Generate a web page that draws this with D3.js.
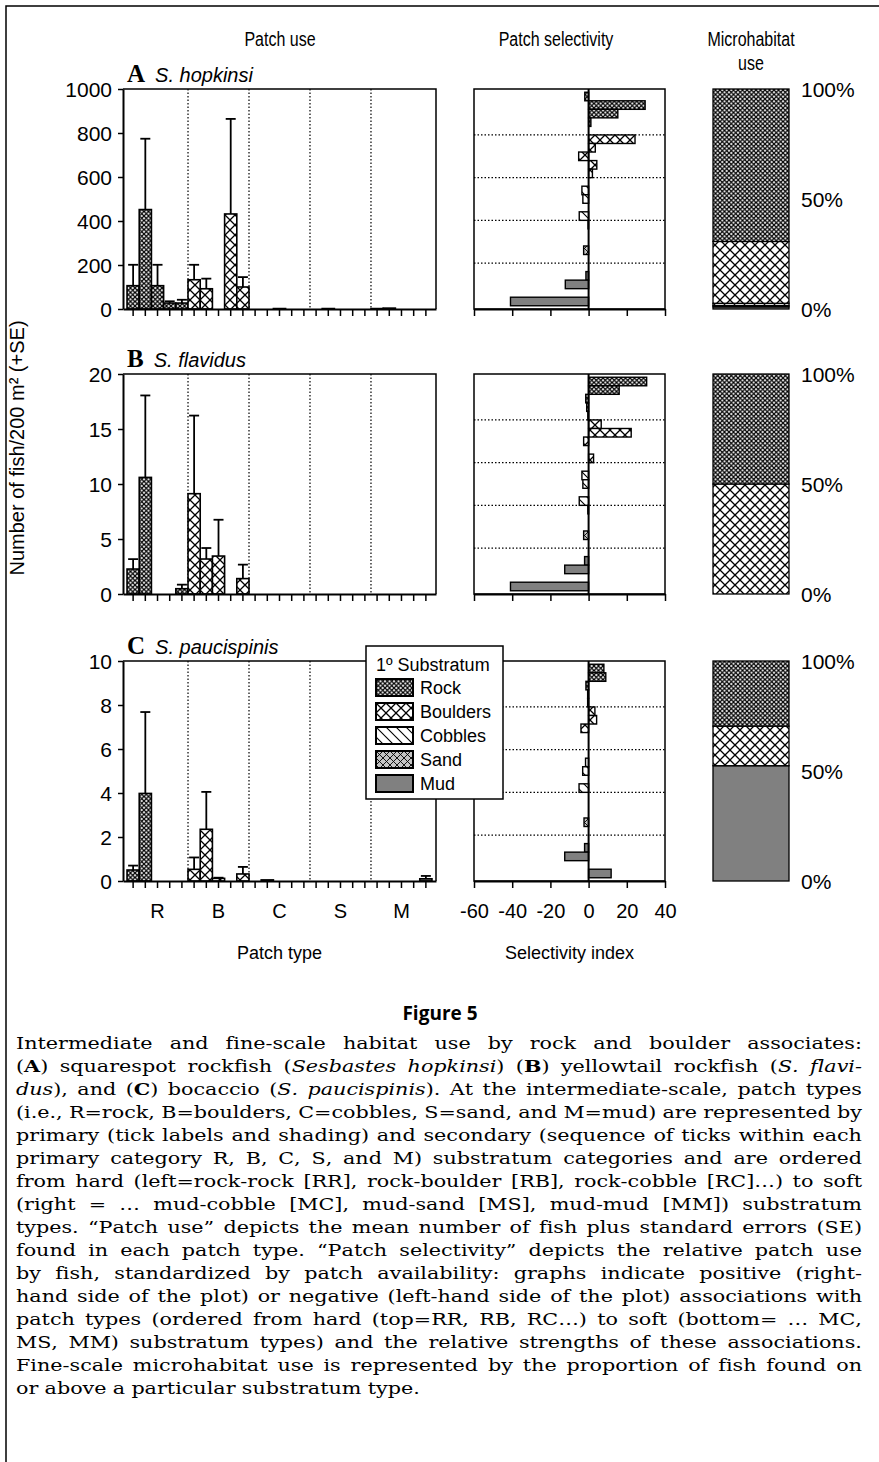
<!DOCTYPE html>
<html>
<head>
<meta charset="utf-8">
<script src="https://cdn.jsdelivr.net/npm/d3@7"></script>
<style>
  body { margin: 0; background: #fff; }
  svg { display: block; }
  text { font-variant-ligatures: none; font-kerning: none; }
</style>
</head>
<body>
<div id="chart"></div>
<script>
// primary / secondary substratum codes, ordered hard -> soft
const cats = ["R", "B", "C", "S", "M"];
const patchTypes = cats.flatMap(p => cats.map(s => p + s));
const substrata = ["Rock", "Boulders", "Cobbles", "Sand", "Mud"];
const selTicks = [-60, -40, -20, 0, 20, 40];
const pctTicks = [0, 50, 100];

// patch use: mean number of fish / 200 m2 and SE (25 patch types, RR..MM)
const ticksA = [0, 200, 400, 600, 800, 1000];
const useA = [106, 452, 106, 27, 27, 133, 92, 0, 432, 100, 0, 0, 2, 0, 0, 0, 2, 0, 0, 0, 2, 4, 0, 0, 0];
const seA  = [95, 322, 95, 8, 15, 68, 46, 0, 432, 45, 0, 0, 0, 0, 0, 0, 0, 0, 0, 0, 0, 0, 0, 0, 0];
const ticksB = [0, 5, 10, 15, 20];
const useB = [2.27, 10.6, 0, 0, 0.48, 9.12, 3.18, 3.45, 0, 1.4, 0, 0, 0, 0, 0, 0, 0, 0, 0, 0, 0, 0, 0, 0, 0];
const seB  = [0.9, 7.45, 0, 0, 0.37, 7.1, 1.0, 3.3, 0, 1.27, 0, 0, 0, 0, 0, 0, 0, 0, 0, 0, 0, 0, 0, 0, 0];
const ticksC = [0, 2, 4, 6, 8, 10];
const useC = [0.5, 3.98, 0, 0, 0, 0.53, 2.35, 0.12, 0, 0.32, 0, 0.05, 0, 0, 0, 0, 0, 0, 0, 0, 0, 0, 0, 0, 0.1];
const seC  = [0.2, 3.7, 0, 0, 0, 0.54, 1.7, 0.03, 0, 0.32, 0, 0, 0, 0, 0, 0, 0, 0, 0, 0, 0, 0, 0, 0, 0.13];

// patch selectivity index (RR top .. MM bottom)
const selA = [-2, 29.6, 15.3, 1.2, 0, 24.3, 3.5, -5.2, 4.3, 2, 0, -3.5, -3, 0, -4.9, -0.3, 0, 0, -2.6, 0, 0, -1.4, -12.2, 0, -40.9];
const selB = [30.4, 16, -1.5, -1, -0.4, 6.6, 22.3, -2.6, 0, 2.6, 0, -3.5, -3, 0, -4.9, -0.4, 0, 0, -2.6, 0, 0, -2.1, -12.5, 0, -40.9];
const selC = [8, 9, -1.4, -0.5, -0.5, 3.3, 4.2, -4, 0, 0, 0, -1.6, -3.1, 0, -5, 0, 0, 0, -2.4, 0, 0, -2.1, -12.5, 0, 11.8];

// microhabitat use, % of fish (Rock, Boulders, Cobbles, Sand, Mud)
const microA = [69.3, 28.1, 1.0, 0.6, 1.0];
const microB = [50, 50, 0, 0, 0];
const microC = [29.6, 18.0, 0, 0, 52.4];

const captionLines = [
  "Intermediate and fine-scale habitat use by rock and boulder associates:",
  "(*A*) squarespot rockfish (_Sesbastes hopkinsi_) (*B*) yellowtail rockfish (_S. flavi-_",
  "_dus_), and (*C*) bocaccio (_S. paucispinis_). At the intermediate-scale, patch types",
  "(i.e., R=rock, B=boulders, C=cobbles, S=sand, and M=mud) are represented by",
  "primary (tick labels and shading) and secondary (sequence of ticks within each",
  "primary category R, B, C, S, and M) substratum categories and are ordered",
  "from hard (left=rock-rock [RR], rock-boulder [RB], rock-cobble [RC]…) to soft",
  "(right = … mud-cobble [MC], mud-sand [MS], mud-mud [MM]) substratum",
  "types. “Patch use” depicts the mean number of fish plus standard errors (SE)",
  "found in each patch type. “Patch selectivity” depicts the relative patch use",
  "by fish, standardized by patch availability: graphs indicate positive (right-",
  "hand side of the plot) or negative (left-hand side of the plot) associations with",
  "patch types (ordered from hard (top=RR, RB, RC…) to soft (bottom= … MC,",
  "MS, MM) substratum types) and the relative strengths of these associations.",
  "Fine-scale microhabitat use is represented by the proportion of fish found on",
  "or above a particular substratum type."
];

const panels = [
  {letter: "A", species: "S. hopkinsi", top: 89, ticks: ticksA, use: useA, se: seA, sel: selA, micro: microA},
  {letter: "B", species: "S. flavidus", top: 374, ticks: ticksB, use: useB, se: seB, sel: selB, micro: microB},
  {letter: "C", species: "S. paucispinis", top: 661, ticks: ticksC, use: useC, se: seC, sel: selC, micro: microC}
];

const W = 879, H = 1462;
const plotH = 220;
const useX0 = 123, useX1 = 436;
const selX0 = 474, selX1 = 665;
const barX0 = 713, barX1 = 789;
const font = "'Liberation Sans', Arial, Helvetica, sans-serif";

const svg = d3.select("#chart").append("svg")
    .attr("width", W).attr("height", H)
    .attr("font-family", font);

// hatch patterns for the primary substratum
const defs = svg.append("defs");
function pattern(id, size, bg, path, sw) {
  const p = defs.append("pattern").attr("id", id)
      .attr("patternUnits", "userSpaceOnUse")
      .attr("width", size).attr("height", size);
  p.append("rect").attr("width", size).attr("height", size).attr("fill", bg);
  if (path) p.append("path").attr("d", path).attr("stroke", "#000")
      .attr("stroke-width", sw).attr("fill", "none");
}
pattern("pRock", 4.5, "#fff", "M0,0L4.5,4.5M4.5,0L0,4.5", 1.25);
pattern("pBoulders", 10, "#fff", "M0,0L10,10M10,0L0,10", 1.3);
pattern("pCobbles", 10, "#fff", "M0,0L10,10M-5,5L5,15M5,-5L15,5", 1.1);
pattern("pSand", 7, "#c4c4c4", "M0,0L7,7M7,0L0,7", 0.9);
pattern("pMud", 4, "#808080", null, 0);

const fillOf = code => `url(#p${substrata[cats.indexOf(code[0])]})`;
const fillSub = s => `url(#p${s})`;
const fmtSigned = d => (d < 0 ? "-" : "") + Math.abs(d);

// frame
svg.append("path").attr("d", `M6,${H}V6H${W}`)
    .attr("fill", "none").attr("stroke", "#000").attr("stroke-width", 1.5);

// column titles (narrow face)
const titles = svg.append("g").attr("font-size", 20).attr("text-anchor", "middle");
[["Patch use", 280, 46], ["Patch selectivity", 556, 46], ["Microhabitat", 751, 46], ["use", 751, 70]]
  .forEach(([t, x, y]) => titles.append("text")
      .attr("transform", `translate(${x},${y}) scale(0.8,1)`).text(t));

svg.append("text")
    .attr("transform", "translate(24,448) rotate(-90)")
    .attr("text-anchor", "middle").attr("font-size", 20)
    .text("Number of fish/200 m² (+SE)");

const xUse = d3.scaleBand().domain(patchTypes).range([useX0, useX1])
    .paddingInner(0).paddingOuter(0.33);

panels.forEach((p, pi) => {
  const bottom = p.top + plotH;
  const yMax = p.ticks[p.ticks.length - 1];
  const y = d3.scaleLinear().domain([0, yMax]).range([bottom, p.top]);

  // panel label
  const lab = svg.append("text").attr("x", 127).attr("y", p.top - 7);
  lab.append("tspan").attr("font-family", "'Liberation Serif', 'Times New Roman', serif")
      .attr("font-weight", "bold").attr("font-size", 25).text(p.letter);
  lab.append("tspan").attr("dx", 10).attr("font-style", "italic").attr("font-size", 20).text(p.species);

  // ---- patch use ----
  const g = svg.append("g");
  [1, 2, 3, 4].forEach(k => {
    const xx = xUse(cats[k] + "R");
    g.append("line").attr("x1", xx).attr("x2", xx).attr("y1", p.top).attr("y2", bottom)
        .attr("stroke", "#000").attr("stroke-width", 1.2).attr("stroke-dasharray", "1.5,2");
  });
  const rows = patchTypes.map((c, i) => ({c, v: p.use[i], se: p.se[i]}));
  g.selectAll("rect.bar").data(rows.filter(d => d.v > 0)).join("rect")
      .attr("class", "bar")
      .attr("x", d => xUse(d.c)).attr("width", xUse.bandwidth())
      .attr("y", d => y(d.v)).attr("height", d => bottom - y(d.v))
      .attr("fill", d => fillOf(d.c)).attr("stroke", "#000").attr("stroke-width", 1.6);
  const eb = g.selectAll("g.err").data(rows.filter(d => d.se > 0)).join("g").attr("class", "err")
      .attr("stroke", "#000").attr("stroke-width", 1.8);
  eb.append("line")
      .attr("x1", d => xUse(d.c) + xUse.bandwidth() / 2).attr("x2", d => xUse(d.c) + xUse.bandwidth() / 2)
      .attr("y1", d => y(d.v)).attr("y2", d => y(d.v + d.se));
  eb.append("line")
      .attr("x1", d => xUse(d.c) + xUse.bandwidth() / 2 - 5).attr("x2", d => xUse(d.c) + xUse.bandwidth() / 2 + 5)
      .attr("y1", d => y(d.v + d.se)).attr("y2", d => y(d.v + d.se));

  // box + axes
  g.append("path").attr("d", `M${useX0},${p.top}H${useX1}V${bottom}`)
      .attr("fill", "none").attr("stroke", "#000").attr("stroke-width", 1.5);
  const ya = g.append("g").attr("transform", `translate(${useX0},0)`)
      .call(d3.axisLeft(y).tickValues(p.ticks).tickSize(5).tickSizeOuter(0).tickPadding(6)
        .tickFormat(d => String(d)));
  ya.select(".domain").attr("stroke-width", 2);
  ya.selectAll(".tick line").attr("stroke-width", 1.5);
  ya.selectAll("text").attr("font-size", 21).attr("font-family", font).attr("dy", "0.36em");
  const xa = g.append("g").attr("transform", `translate(0,${bottom})`)
      .call(d3.axisBottom(xUse).tickSize(7).tickSizeOuter(0).tickFormat(""));
  xa.select(".domain").attr("stroke-width", 2);
  xa.selectAll(".tick line").attr("stroke-width", 1.5);

  // ---- patch selectivity ----
  const ys = d3.scaleBand().domain(patchTypes).range([p.top, bottom])
      .paddingInner(0).paddingOuter(0.38);
  const xs = d3.scaleLinear().domain([selTicks[0], selTicks[selTicks.length - 1]]).range([selX0, selX1]);
  const m = svg.append("g");
  [1, 2, 3, 4].forEach(k => {
    const yy = ys(cats[k] + "R");
    m.append("line").attr("x1", selX0).attr("x2", selX1).attr("y1", yy).attr("y2", yy)
        .attr("stroke", "#000").attr("stroke-width", 1.2).attr("stroke-dasharray", "1.5,2");
  });
  const srows = patchTypes.map((c, i) => ({c, v: p.sel[i]}));
  m.selectAll("rect").data(srows.filter(d => d.v !== 0)).join("rect")
      .attr("x", d => xs(Math.min(0, d.v))).attr("width", d => Math.abs(xs(d.v) - xs(0)))
      .attr("y", d => ys(d.c)).attr("height", ys.bandwidth())
      .attr("fill", d => fillOf(d.c)).attr("stroke", "#000").attr("stroke-width", 1.4);
  m.append("line").attr("x1", xs(0)).attr("x2", xs(0)).attr("y1", p.top).attr("y2", bottom)
      .attr("stroke", "#000").attr("stroke-width", 2);
  m.append("rect").attr("x", selX0).attr("y", p.top).attr("width", selX1 - selX0).attr("height", plotH)
      .attr("fill", "none").attr("stroke", "#000").attr("stroke-width", 1.5);
  const sa = m.append("g").attr("transform", `translate(0,${bottom})`)
      .call(d3.axisBottom(xs).tickValues(selTicks).tickSize(7).tickSizeOuter(0).tickPadding(16)
        .tickFormat(fmtSigned));
  sa.select(".domain").attr("stroke-width", 2);
  sa.selectAll(".tick line").attr("stroke-width", 1.5);
  sa.selectAll("text").attr("font-size", 20).attr("font-family", font);
  if (pi < 2) sa.selectAll("text").remove();

  // ---- microhabitat use ----
  const yp = d3.scaleLinear().domain([0, 100]).range([bottom, p.top]);
  const stackRow = Object.fromEntries(substrata.map((s, i) => [s, p.micro[i]]));
  const series = d3.stack().keys([...substrata].reverse())([stackRow]);
  svg.append("g").selectAll("rect").data(series.filter(s => s[0][1] > s[0][0])).join("rect")
      .attr("x", barX0).attr("width", barX1 - barX0)
      .attr("y", s => yp(s[0][1])).attr("height", s => yp(s[0][0]) - yp(s[0][1]))
      .attr("fill", s => fillSub(s.key)).attr("stroke", "#000").attr("stroke-width", 1.3);
  svg.append("g").attr("font-size", 21).selectAll("text").data(pctTicks).join("text")
      .attr("x", 801).attr("y", d => yp(d)).attr("dy", "0.36em").text(d => d + "%");
});

// x labels for the bottom row
const lastBottom = panels[2].top + plotH;
svg.append("g").attr("font-size", 20).attr("text-anchor", "middle")
  .selectAll("text").data(cats).join("text")
    .attr("x", c => xUse(c + "C") + xUse.bandwidth() / 2)
    .attr("y", lastBottom + 37).text(c => c);
svg.append("text").attr("x", (useX0 + useX1) / 2).attr("y", lastBottom + 78)
    .attr("text-anchor", "middle").attr("font-size", 18).text("Patch type");
svg.append("text").attr("x", (selX0 + selX1) / 2).attr("y", lastBottom + 78)
    .attr("text-anchor", "middle").attr("font-size", 18).text("Selectivity index");

// legend
const lg = svg.append("g").attr("transform", "translate(366,646)");
lg.append("rect").attr("width", 137).attr("height", 153)
    .attr("fill", "#fff").attr("stroke", "#000").attr("stroke-width", 1.5);
lg.append("text").attr("x", 10).attr("y", 25).attr("font-size", 18).text("1º Substratum");
const li = lg.selectAll("g.item").data(substrata).join("g").attr("class", "item")
    .attr("transform", (d, i) => `translate(10,${33 + i * 24})`);
li.append("rect").attr("width", 37).attr("height", 17)
    .attr("fill", d => fillSub(d)).attr("stroke", "#000").attr("stroke-width", 2);
li.append("text").attr("x", 44).attr("y", 15).attr("font-size", 18).text(d => d);

// caption
svg.append("text").attr("x", 440).attr("y", 1020).attr("text-anchor", "middle")
    .attr("font-family", "'Open Sans', 'DejaVu Sans', sans-serif").attr("font-weight", "bold")
    .attr("font-size", 19).text("Figure 5");

function parseWords(line) {
  const runs = [];
  let b = false, it = false, buf = "";
  const push = () => { if (buf) runs.push({t: buf, b, it}); buf = ""; };
  for (const ch of line) {
    if (ch === "*") { push(); b = !b; }
    else if (ch === "_") { push(); it = !it; }
    else buf += ch;
  }
  push();
  const words = [[]];
  runs.forEach(r => {
    r.t.split(" ").forEach((part, k) => {
      if (k > 0) words.push([]);
      if (part) words[words.length - 1].push({t: part, b: r.b, it: r.it});
    });
  });
  return words.filter(w => w.length);
}

// justified caption: each word is its own text element, measured then spread
const capX0 = 16, capX1 = 862, capY0 = 1049, capDY = 23, baseFs = 16, minGap = 0.3;
const capOuter = svg.append("g").attr("transform", `translate(${capX0},0)`);
const cap = capOuter.append("g")
    .attr("font-family", "'DejaVu Serif', 'Liberation Serif', serif").attr("font-size", baseFs);
const lines = captionLines.map((line, li) => {
  const words = parseWords(line);
  const texts = words.map(w => {
    const t = cap.append("text").attr("y", capY0 + li * capDY);
    w.forEach(piece => t.append("tspan")
      .attr("font-weight", piece.b ? "bold" : null)
      .attr("font-style", piece.it ? "italic" : null)
      .text(piece.t));
    return t;
  });
  const widths = texts.map(t => t.node().getComputedTextLength());
  return {texts, widths};
});
const natural = d3.max(lines, l => d3.sum(l.widths) + (l.widths.length - 1) * minGap * baseFs);
const k = (capX1 - capX0) / natural;
const fs = Math.min(17.5, baseFs * k);
const sx = baseFs * k / fs;
cap.attr("font-size", fs);
capOuter.attr("transform", `translate(${capX0},0) scale(${sx},1)`);
const target = (capX1 - capX0) / sx;
lines.forEach((l, li) => {
  const ws = l.widths.map(w => w * fs / baseFs);
  const last = li === lines.length - 1;
  const gap = last ? minGap * fs : (target - d3.sum(ws)) / (ws.length - 1);
  let x = 0;
  l.texts.forEach((t, i) => { t.attr("x", x); x += ws[i] + gap; });
});
</script>
</body>
</html>
